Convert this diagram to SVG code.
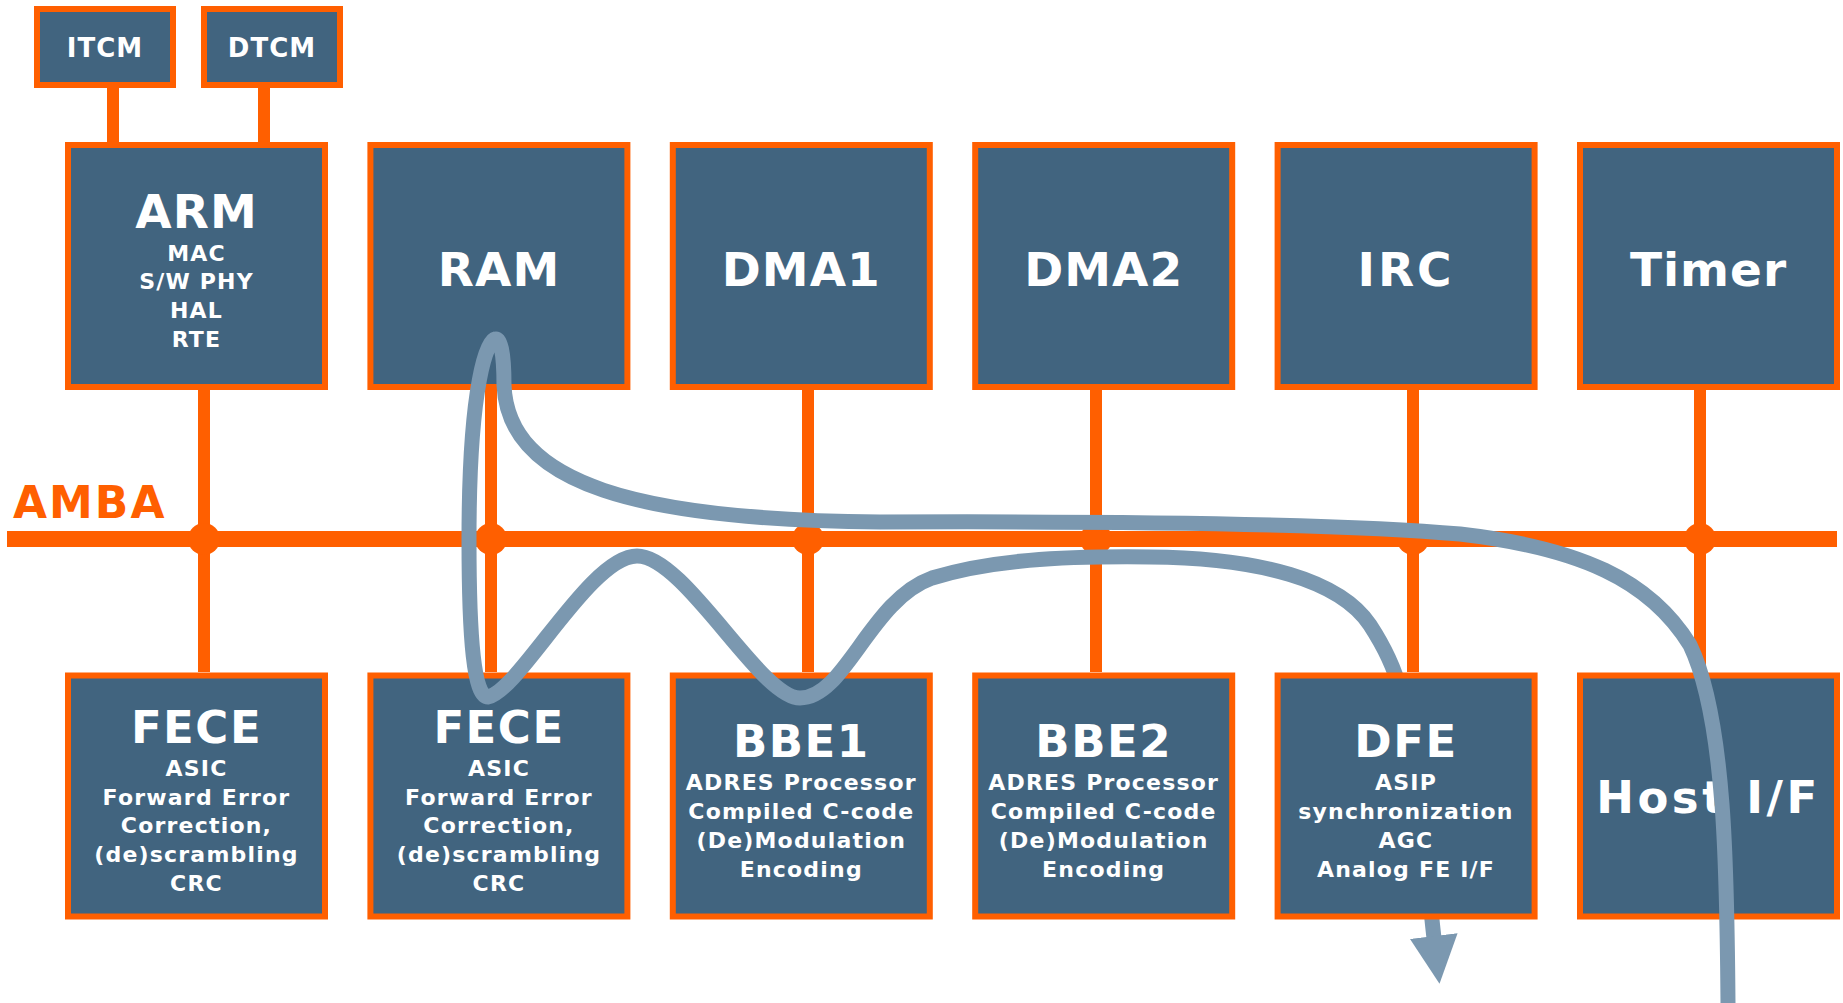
<svg xmlns="http://www.w3.org/2000/svg" width="1843" height="1003" viewBox="0 0 1843 1003">
<defs>
<style>
.box{fill:#41647F;stroke:#FF5F00;stroke-width:6}
.wire{stroke:#FF5F00;stroke-width:12;fill:none}
.bus{stroke:#FF5F00;stroke-width:16;fill:none}
.dot{fill:#FF5F00}
.t{font-family:"DejaVu Sans",Verdana,sans-serif;font-weight:bold;fill:#FFFFFF;text-anchor:middle}
.h0{font-size:26px;letter-spacing:1px}
.h1{font-size:47px;letter-spacing:1px}
.h2{font-size:45px;letter-spacing:1.5px}
.s{font-size:22px;letter-spacing:1.2px}
.amba{font-family:"DejaVu Sans",Verdana,sans-serif;font-weight:bold;font-size:44px;letter-spacing:2px;fill:#FF5F00}
.flow{fill:none;stroke:#7B98B0;stroke-width:15}
</style>
<marker id="ah" markerUnits="userSpaceOnUse" markerWidth="48" markerHeight="48" viewBox="0 0 48 48" refX="2" refY="24" orient="auto">
<path d="M0,0 L48,24 L0,48 z" fill="#7B98B0"/>
</marker>
</defs>
<rect width="1843" height="1003" fill="#FFFFFF"/>

<g id="connectors">
<line class="wire" x1="113" y1="88" x2="113" y2="142"/>
<line class="wire" x1="264" y1="88" x2="264" y2="142"/>
<line class="bus" x1="7" y1="539" x2="1837" y2="539"/>
<line class="wire" x1="204" y1="390" x2="204" y2="672"/>
<line class="wire" x1="491" y1="390" x2="491" y2="672"/>
<line class="wire" x1="808" y1="390" x2="808" y2="672"/>
<line class="wire" x1="1096" y1="390" x2="1096" y2="672"/>
<line class="wire" x1="1413" y1="390" x2="1413" y2="672"/>
<line class="wire" x1="1700" y1="390" x2="1700" y2="672"/>
<circle class="dot" cx="204" cy="539" r="16"/>
<circle class="dot" cx="491" cy="539" r="16"/>
<circle class="dot" cx="808" cy="539" r="16"/>
<circle class="dot" cx="1096" cy="539" r="16"/>
<circle class="dot" cx="1413" cy="539" r="16"/>
<circle class="dot" cx="1700" cy="539" r="16"/>
</g>

<g id="amba-label"><text class="amba" x="13" y="518">AMBA</text></g>

<g id="itcm"><rect class="box" x="37" y="9" width="136" height="76"/><text class="t h0" x="105" y="57">ITCM</text></g>
<g id="dtcm"><rect class="box" x="204" y="9" width="136" height="76"/><text class="t h0" x="272" y="57">DTCM</text></g>

<g id="arm"><rect class="box" x="68" y="145" width="257" height="242"/>
<text class="t h1" x="196.5" y="228">ARM</text>
<text class="t s" x="196.5" y="261">MAC</text>
<text class="t s" x="196.5" y="289">S/W PHY</text>
<text class="t s" x="196.5" y="318">HAL</text>
<text class="t s" x="196.5" y="347">RTE</text></g>
<g id="ram"><rect class="box" x="370.4" y="145" width="257" height="242"/><text class="t h1" x="499" y="286">RAM</text></g>
<g id="dma1"><rect class="box" x="672.8" y="145" width="257" height="242"/><text class="t h1" x="801.3" y="286">DMA1</text></g>
<g id="dma2"><rect class="box" x="975.2" y="145" width="257" height="242"/><text class="t h1" x="1103.7" y="286">DMA2</text></g>
<g id="irc"><rect class="box" x="1277.6" y="145" width="257" height="242"/><text class="t h1" x="1406" y="286" style="letter-spacing:3px">IRC</text></g>
<g id="timer"><rect class="box" x="1580" y="145" width="257" height="242"/><text class="t h1" x="1708.5" y="286">Timer</text></g>

<g id="fece1"><rect class="box" x="68" y="675.5" width="257" height="241"/>
<text class="t h2" x="196.5" y="743">FECE</text>
<text class="t s" x="196.5" y="776">ASIC</text>
<text class="t s" x="196.5" y="805">Forward Error</text>
<text class="t s" x="196.5" y="833">Correction,</text>
<text class="t s" x="196.5" y="862">(de)scrambling</text>
<text class="t s" x="196.5" y="891">CRC</text></g>
<g id="fece2"><rect class="box" x="370.4" y="675.5" width="257" height="241"/>
<text class="t h2" x="499" y="743">FECE</text>
<text class="t s" x="499" y="776">ASIC</text>
<text class="t s" x="499" y="805">Forward Error</text>
<text class="t s" x="499" y="833">Correction,</text>
<text class="t s" x="499" y="862">(de)scrambling</text>
<text class="t s" x="499" y="891">CRC</text></g>
<g id="bbe1"><rect class="box" x="672.8" y="675.5" width="257" height="241"/>
<text class="t h2" x="801.3" y="757">BBE1</text>
<text class="t s" x="801.3" y="790">ADRES Processor</text>
<text class="t s" x="801.3" y="819">Compiled C-code</text>
<text class="t s" x="801.3" y="848">(De)Modulation</text>
<text class="t s" x="801.3" y="877">Encoding</text></g>
<g id="bbe2"><rect class="box" x="975.2" y="675.5" width="257" height="241"/>
<text class="t h2" x="1103.7" y="757">BBE2</text>
<text class="t s" x="1103.7" y="790">ADRES Processor</text>
<text class="t s" x="1103.7" y="819">Compiled C-code</text>
<text class="t s" x="1103.7" y="848">(De)Modulation</text>
<text class="t s" x="1103.7" y="877">Encoding</text></g>
<g id="hostif"><rect class="box" x="1580" y="675.5" width="257" height="241"/>
<text class="t h2" x="1708.5" y="813" style="letter-spacing:3.5px">Host I/F</text></g>

<g id="dataflow">
<path class="flow" marker-end="url(#ah)" d="M1728,1003 C1727,880 1726,720 1690,645 C1650,580 1580,548 1460,534 C1350,524 1150,521 880,522 C640,520 508,485 504,385 C504,350 500,338 495,339 C488,340 469,380 469,540 C469,640 474,697 488,697 C520,690 590,556 637,556 C685,556 760,698 800,698 C845,698 870,600 932,578 C990,560 1060,556 1150,557 C1260,558 1340,580 1370,625 C1385,648 1395,670 1400,690 C1420,760 1427,880 1434,938"/>
</g>

<g id="dfe"><rect class="box" x="1277.6" y="675.5" width="257" height="241"/>
<text class="t h2" x="1406" y="757">DFE</text>
<text class="t s" x="1406" y="790">ASIP</text>
<text class="t s" x="1406" y="819">synchronization</text>
<text class="t s" x="1406" y="848">AGC</text>
<text class="t s" x="1406" y="877">Analog FE I/F</text></g>
</svg>
